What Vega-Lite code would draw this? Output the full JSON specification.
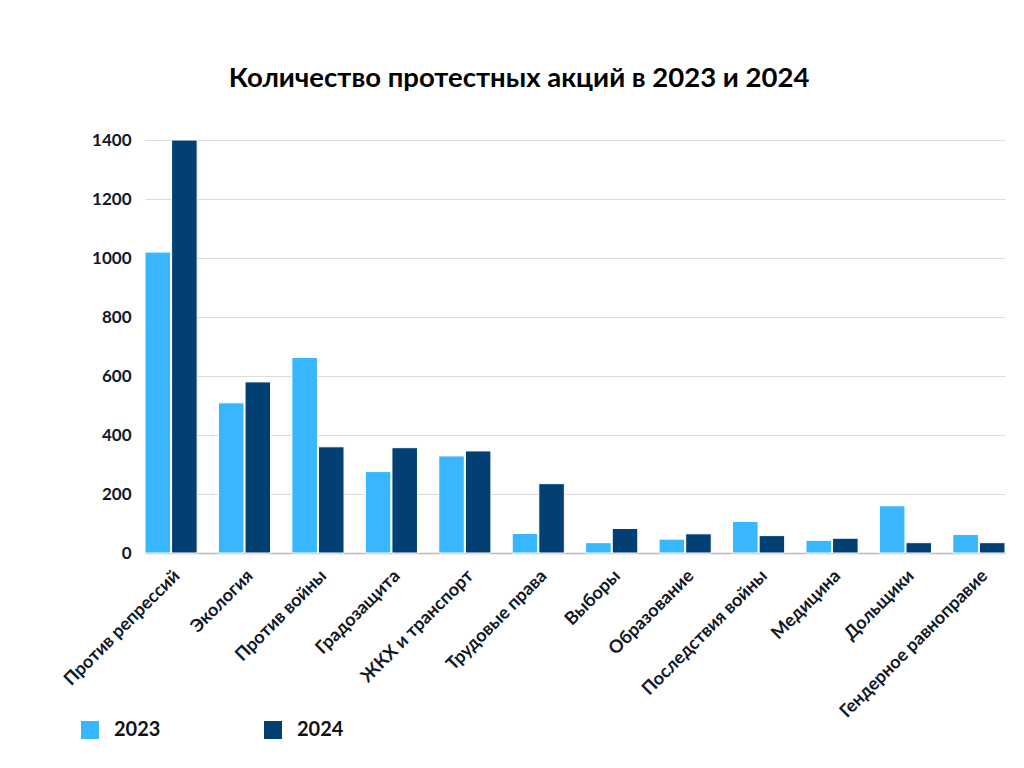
{
  "$schema": "https://vega.github.io/schema/vega-lite/v6.json",
  "width": 860,
  "height": 413,
  "autosize": {"type": "none"},
  "padding": {"left": 145, "top": 140, "right": 19, "bottom": 215},
  "background": "white",
  "title": {
    "text": "Количество протестных акций в 2023 и 2024",
    "font": "Lato",
    "fontSize": 27.5,
    "fontWeight": "bold",
    "color": "#000000",
    "anchor": "middle",
    "frame": "bounds",
    "offset": 39,
    "dx": -14
  },
  "data": {
    "values": [
      {"category": "Против репрессий", "year": "2023", "count": 1020},
      {"category": "Против репрессий", "year": "2024", "count": 1400},
      {"category": "Экология", "year": "2023", "count": 509},
      {"category": "Экология", "year": "2024", "count": 580},
      {"category": "Против войны", "year": "2023", "count": 663},
      {"category": "Против войны", "year": "2024", "count": 360},
      {"category": "Градозащита", "year": "2023", "count": 276},
      {"category": "Градозащита", "year": "2024", "count": 357},
      {"category": "ЖКХ и транспорт", "year": "2023", "count": 329},
      {"category": "ЖКХ и транспорт", "year": "2024", "count": 346},
      {"category": "Трудовые права", "year": "2023", "count": 66},
      {"category": "Трудовые права", "year": "2024", "count": 235},
      {"category": "Выборы", "year": "2023", "count": 35},
      {"category": "Выборы", "year": "2024", "count": 83},
      {"category": "Образование", "year": "2023", "count": 47},
      {"category": "Образование", "year": "2024", "count": 65},
      {"category": "Последствия войны", "year": "2023", "count": 107},
      {"category": "Последствия войны", "year": "2024", "count": 59},
      {"category": "Медицина", "year": "2023", "count": 43},
      {"category": "Медицина", "year": "2024", "count": 50},
      {"category": "Дольщики", "year": "2023", "count": 160},
      {"category": "Дольщики", "year": "2024", "count": 35},
      {"category": "Гендерное равноправие", "year": "2023", "count": 63},
      {"category": "Гендерное равноправие", "year": "2024", "count": 35}
    ]
  },
  "mark": {"type": "bar", "stroke": "white", "strokeWidth": 1},
  "encoding": {
    "x": {
      "field": "category",
      "type": "nominal",
      "sort": null,
      "title": null,
      "scale": {"paddingInner": 0.29, "paddingOuter": 0},
      "axis": {
        "labelAngle": -45,
        "labelAlign": "right",
        "labelBaseline": "middle",
        "labelFont": "Lato",
        "labelFontSize": 18,
        "labelFontWeight": "bold",
        "labelColor": "#101828",
        "labelPadding": 20,
        "labelOffset": 6,
        "labelLimit": 300,
        "ticks": false,
        "domain": true,
        "domainColor": "#b4bcc4",
        "domainWidth": 1.5
      }
    },
    "xOffset": {"field": "year", "type": "nominal", "scale": {"paddingInner": 0.04}},
    "y": {
      "field": "count",
      "type": "quantitative",
      "title": null,
      "scale": {"domain": [0, 1400], "nice": false},
      "axis": {
        "values": [0, 200, 400, 600, 800, 1000, 1200, 1400],
        "format": "d",
        "labelFont": "Lato",
        "labelFontSize": 17,
        "labelFontWeight": "bold",
        "labelColor": "#101828",
        "labelPadding": 14,
        "ticks": false,
        "domain": false,
        "grid": true,
        "gridColor": "#d7dce0",
        "gridWidth": 1
      }
    },
    "color": {
      "field": "year",
      "type": "nominal",
      "title": null,
      "scale": {"domain": ["2023", "2024"], "range": ["#38B6FF", "#023F73"]},
      "legend": {
        "orient": "none",
        "legendX": -65,
        "legendY": 580,
        "direction": "horizontal",
        "symbolType": "square",
        "symbolSize": 324,
        "symbolStrokeWidth": 0,
        "labelFont": "Lato",
        "labelFontSize": 20,
        "labelFontWeight": "bold",
        "labelColor": "#111111",
        "labelOffset": 14,
        "columnPadding": 102
      }
    }
  },
  "config": {"view": {"stroke": null}}
}
